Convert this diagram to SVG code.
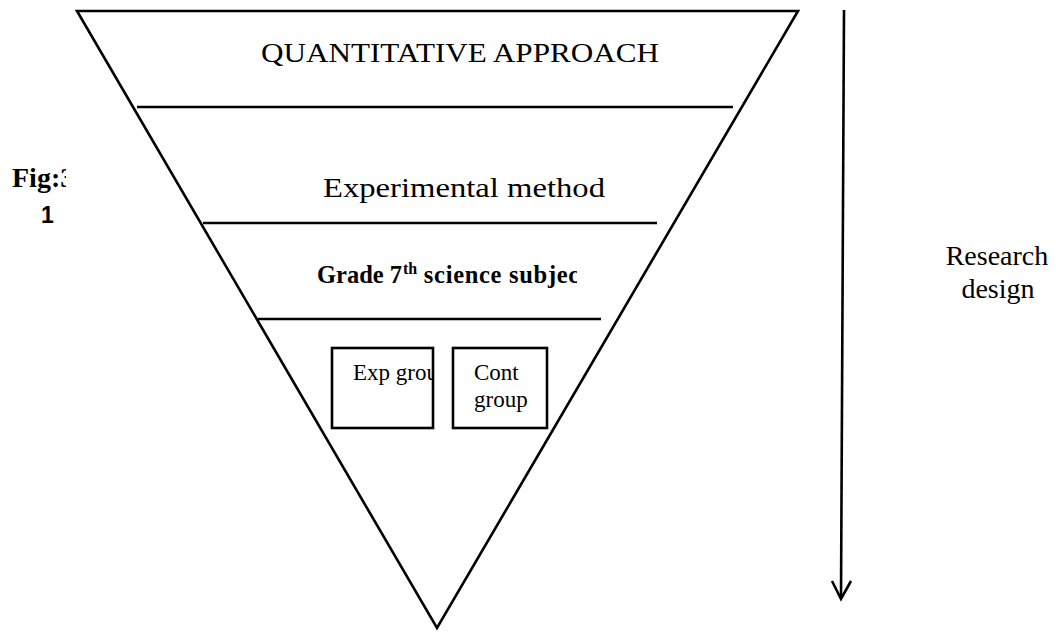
<svg xmlns="http://www.w3.org/2000/svg" width="1056" height="632" viewBox="0 0 1056 632">
  <style>
    .ln { stroke: #000; stroke-width: 2.6; fill: none; }
    .box { stroke: #000; stroke-width: 2.6; fill: #fff; }
    .serif { font-family: "Liberation Serif", "Times New Roman", serif; fill: #000; }
    .bold { font-weight: bold; }
    .sans { font-family: "Liberation Sans", Arial, sans-serif; fill: #000; font-weight: bold; }
  </style>
  <defs>
    <clipPath id="clipFig"><rect x="0" y="150" width="66" height="50"/></clipPath>
    <clipPath id="clipExp"><rect x="333" y="349" width="99" height="78"/></clipPath>
    <clipPath id="clipGrade"><rect x="300" y="255" width="277" height="40"/></clipPath>
  </defs>
  <rect width="1056" height="632" fill="#fff"/>

  <g id="pyramid">
    <polygon class="ln" points="77,11 798,11 437,628" stroke-linejoin="miter"/>
    <line class="ln" x1="137" y1="107" x2="733" y2="107"/>
    <line class="ln" x1="203" y1="223" x2="657" y2="223"/>
    <line class="ln" x1="258" y1="319" x2="601" y2="319"/>
  </g>

  <g id="quantitative">
    <text class="serif" x="261" y="62" font-size="28" textLength="398" lengthAdjust="spacingAndGlyphs">QUANTITATIVE APPROACH</text>
  </g>

  <g id="experimental">
    <text class="serif" x="323" y="197" font-size="28" textLength="282" lengthAdjust="spacingAndGlyphs">Experimental method</text>
  </g>

  <g id="grade">
    <text class="serif bold" x="317" y="283" font-size="24.5" clip-path="url(#clipGrade)">Grade 7<tspan x="403" font-size="16" dy="-9">th</tspan><tspan x="417" dy="9" letter-spacing="0.7"> science subjec</tspan></text>
  </g>

  <g id="exp-group">
    <rect class="box" x="332" y="348" width="101" height="80"/>
    <text class="serif" x="353" y="380" font-size="23" clip-path="url(#clipExp)">Exp grou</text>
  </g>

  <g id="cont-group">
    <rect class="box" x="453" y="348" width="94" height="80"/>
    <text class="serif" x="474" y="380" font-size="23">Cont</text>
    <text class="serif" x="474" y="407" font-size="23">group</text>
  </g>

  <g id="fig-label">
    <text class="serif bold" x="12" y="187" font-size="28" clip-path="url(#clipFig)">Fig:3</text>
    <text class="sans" x="41" y="223" font-size="23">1</text>
  </g>

  <g id="research-design">
    <text class="serif" x="997" y="265" font-size="28" text-anchor="middle">Research</text>
    <text class="serif" x="998" y="298" font-size="28" text-anchor="middle">design</text>
  </g>

  <g id="connectors">
    <line class="ln" x1="844" y1="10" x2="841" y2="598"/>
    <polyline class="ln" points="832,581 841,599 851,581"/>
  </g>
</svg>
